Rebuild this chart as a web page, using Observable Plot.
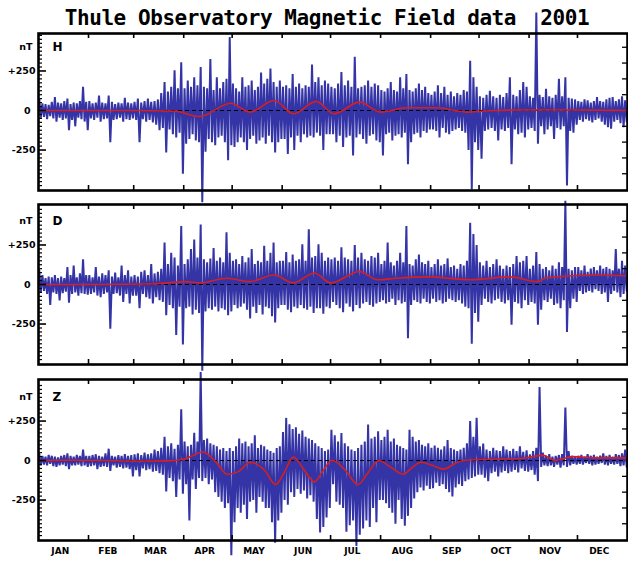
<!DOCTYPE html>
<html><head><meta charset="utf-8">
<script src="https://cdn.jsdelivr.net/npm/d3@7"></script>
<script src="https://cdn.jsdelivr.net/npm/@observablehq/plot@0.6"></script>
<style>
body{margin:0;background:#fff;}
#wrap{position:relative;width:628px;height:561px;overflow:hidden;background:#fff;}
#title{position:absolute;left:0;top:6px;width:654px;text-align:center;font:bold 21px "DejaVu Sans Mono";letter-spacing:-0.45px;line-height:24px;color:#000;white-space:pre;}
.panel{position:absolute;left:0;}
.panel svg{overflow:visible;}
</style></head><body>
<div id="wrap">
<div id="title">Thule Observatory Magnetic Field data  2001</div>
<div class="panel" id="pH" style="top:0px"></div>
<div class="panel" id="pD" style="top:197px"></div>
<div class="panel" id="pZ" style="top:367px"></div>
</div>
<script>
// ---- categories / ticks ----
const months = ["JAN","FEB","MAR","APR","MAY","JUN","JUL","AUG","SEP","OCT","NOV","DEC"];
const monthStarts = [0,31,59,90,120,151,181,212,243,273,304,334,365]; // day of year
const yTickValues = [250, 0, -250];
const yTickLabels = ["+250", "0", "-250"];
const panelNames = ["H", "D", "Z"];

// ---- H component: upper / lower excursions (nT), per month, ~2-day bins ----
const hHi = [
 [70,45,40,35,55,85,50,45,60,75,40,50,45,60,150,55],
 [60,45,50,95,50,45,95,55,40,50,45,80,50,45],
 [55,75,50,60,75,55,60,70,110,180,120,150,255,140,305],
 [140,190,150,210,160,275,150,140,325,130,210,140,180,200,465],
 [170,140,120,210,150,160,190,130,150,240,170,200,265,180,150,190],
 [150,160,140,230,150,170,140,160,150,290,180,210,160,190,170],
 [150,140,170,243,160,190,150,340,140,150,160,190,150,170,160],
 [130,120,140,180,130,120,210,140,230,130,120,140,170,130,150,110],
 [100,120,160,110,150,100,120,90,110,100,130,120,315,210,150],
 [90,80,100,125,90,80,100,85,110,210,100,90,130,180,150],
 [90,80,620,100,85,137,90,80,100,200,90,210,80,75,70],
 [60,55,70,65,50,60,85,60,55,70,80,85,60,70,90,65]
];
const hLo = [
 [-45,-40,-55,-35,-50,-70,-45,-60,-50,-125,-60,-100,-45,-55,-70,-125],
 [-50,-60,-45,-70,-55,-50,-200,-60,-55,-45,-70,-55,-60,-50],
 [-60,-200,-55,-70,-60,-75,-90,-125,-110,-265,-120,-150,-170,-140,-400],
 [-210,-180,-150,-190,-200,-580,-260,-180,-200,-220,-170,-160,-200,-315,-220],
 [-230,-200,-170,-200,-250,-180,-160,-210,-190,-170,-210,-160,-200,-265,-200,-180],
 [-180,-275,-170,-250,-160,-200,-150,-170,-160,-170,-140,-160,-250,-150,-150],
 [-150,-200,-160,-230,-170,-160,-285,-170,-150,-180,-210,-160,-150,-190,-200],
 [-285,-150,-140,-190,-160,-150,-170,-140,-340,-200,-150,-140,-170,-130,-140,-120],
 [-120,-130,-170,-110,-140,-150,-130,-120,-110,-130,-140,-250,-500,-200,-250],
 [-305,-130,-120,-110,-130,-190,-120,-130,-110,-340,-120,-150,-140,-170,-120],
 [-110,-130,-210,-100,-150,-120,-100,-180,-110,-120,-100,-475,-130,-140,-90],
 [-60,-70,-55,-65,-75,-60,-50,-70,-90,-105,-115,-70,-60,-80,-105,-70]
];
const hRedDays = [0,30,60,85,100,119,131,146,158,172,183,199,212,228,247,266,282,300,330,364];
const hRedVals = [0,0,0,-5,-38,46,-10,63,-21,58,-21,53,-10,17,17,-10,0,3,3,0];

// ---- D component ----
const dHi = [
 [88,60,40,50,45,60,40,50,40,110,60,120,45,70,160,60],
 [60,45,110,50,70,60,90,50,75,45,120,60,90,50],
 [60,50,80,90,60,130,70,80,100,265,130,200,170,120,370],
 [130,160,225,285,170,380,160,140,165,230,150,170,140,330,200],
 [150,160,130,180,140,170,225,130,150,140,245,150,200,265,140,150],
 [150,205,140,190,150,160,255,150,350,170,180,255,200,150,170],
 [160,170,150,235,170,160,150,250,170,200,160,150,180,170,200],
 [130,150,265,140,120,150,200,140,370,130,120,160,190,140,130,150],
 [110,130,160,120,130,165,110,120,100,130,120,150,390,320,250],
 [140,120,150,110,130,160,120,100,120,110,130,180,140,150,180],
 [100,120,205,130,100,110,90,120,100,140,110,530,100,90,110],
 [110,90,120,80,100,110,90,120,100,110,100,90,225,100,150,120]
];
const dLo = [
 [-50,-40,-60,-130,-50,-60,-100,-55,-45,-115,-60,-50,-70,-55,-60,-65],
 [-60,-50,-70,-80,-60,-50,-280,-60,-55,-70,-110,-60,-120,-70],
 [-70,-150,-60,-80,-90,-120,-80,-100,-110,-195,-130,-150,-320,-140,-380],
 [-150,-140,-190,-160,-180,-545,-170,-150,-160,-140,-170,-150,-160,-195,-170],
 [-130,-150,-140,-120,-160,-215,-140,-180,-130,-190,-140,-150,-200,-240,-150,-130],
 [-130,-160,-175,-140,-150,-130,-150,-160,-140,-180,-150,-150,-185,-140,-150],
 [-110,-130,-150,-175,-120,-140,-170,-130,-150,-120,-110,-130,-140,-120,-110],
 [-100,-120,-110,-90,-130,-100,-120,-110,-340,-130,-100,-110,-120,-90,-110,-120],
 [-90,-110,-100,-120,-110,-90,-100,-110,-100,-120,-140,-150,-375,-180,-235],
 [-130,-90,-110,-120,-100,-90,-110,-120,-100,-255,-110,-120,-150,-100,-130],
 [-110,-120,-255,-160,-100,-110,-90,-130,-120,-150,-100,-300,-150,-90,-110],
 [-40,-60,-50,-40,-50,-30,-40,-60,-50,-110,-60,-40,-50,-80,-60,-40]
];
const dRedDays = [0,38,69,80,92,100,117,131,146,158,171,181,199,210,222,241,268,292,309,315,346,364];
const dRedVals = [0,0,3,10,18,10,40,18,60,10,73,10,82,30,40,48,30,48,18,44,60,55];

// ---- Z component ----
const zHi = [
 [40,30,25,35,30,25,20,30,35,45,30,25,35,30,70,30],
 [30,35,40,30,25,45,75,30,25,35,30,40,30,35],
 [40,45,35,50,40,45,70,60,80,150,90,110,75,100,325],
 [120,90,100,175,120,560,130,140,110,100,90,70,80,60,80],
 [60,90,140,110,120,90,110,160,80,100,90,70,60,50,80,90],
 [180,270,230,200,210,170,190,150,140,130,110,90,80,60,70],
 [195,160,120,175,110,90,70,60,80,100,120,228,140,150,185],
 [130,150,195,120,140,100,90,80,70,195,150,120,130,100,90,110],
 [80,95,80,70,90,130,80,70,60,70,80,110,250,150,270],
 [90,108,70,60,80,65,60,90,70,60,75,60,90,55,65],
 [40,60,80,465,50,30,40,25,30,35,40,335,60,30,25],
 [30,35,25,40,30,35,25,30,45,30,35,25,40,35,45,70]
];
const zLo = [
 [-30,-25,-30,-20,-35,-40,-30,-25,-35,-55,-30,-30,-25,-35,-30,-40],
 [-35,-30,-55,-40,-35,-40,-65,-30,-45,-40,-50,-45,-55,-100],
 [-60,-100,-50,-60,-55,-70,-65,-80,-90,-195,-110,-130,-230,-120,-210],
 [-150,-380,-120,-180,-110,-130,-110,-150,-120,-200,-230,-260,-300,-270,-600],
 [-390,-300,-330,-280,-370,-260,-250,-330,-230,-260,-300,-300,-390,-520,-380,-330],
 [-250,-280,-200,-230,-180,-210,-190,-240,-220,-260,-370,-455,-420,-360,-300],
 [-150,-260,-280,-300,-450,-410,-380,-540,-470,-430,-380,-420,-300,-390,-250],
 [-250,-270,-300,-330,-400,-250,-370,-412,-350,-300,-240,-200,-170,-190,-160,-180],
 [-175,-140,-160,-150,-180,-200,-228,-170,-150,-160,-130,-120,-110,-100,-90],
 [-90,-108,-130,-80,-70,-100,-75,-65,-80,-70,-60,-75,-50,-65,-70],
 [-60,-90,-130,-40,-30,-35,-30,-40,-25,-45,-30,-40,-30,-20,-25],
 [-20,-25,-15,-20,-30,-25,-20,-15,-25,-30,-20,-25,-20,-35,-30,-40]
];
const zRedDays = [0,20,40,60,80,90,102,110,117,124,131,140,147,152,158,164,171,176,182,190,198,204,211,218,226,232,237,244,251,258,263,280,300,313,320,331,345,364];
const zRedVals = [0,2,0,-3,-2,8,54,-10,-87,-70,-11,-60,-152,-80,22,-50,-135,-70,2,-60,-152,-80,0,-40,-87,-40,-11,-30,-54,-20,0,8,15,33,0,25,17,17];

// ---- build ----
function zig(hi, lo) {
  const pts = [];
  hi.forEach((arr, m) => {
    const s = monthStarts[m], L = monthStarts[m + 1] - s, n = arr.length;
    arr.forEach((v, k) => {
      pts.push({day: s + (k + 0.25) * L / n, v});
      pts.push({day: s + (k + 0.75) * L / n, v: lo[m][k]});
    });
  });
  return pts;
}

const W = 628, ML = 38, MR = 1;
const innerW = W - ML - MR;
const lab = {fontFamily: "DejaVu Sans", fontWeight: "bold", fontSize: 9.5, fill: "#000"};

function panel(id, p) {
  const innerH = p.height - p.mt - p.mb;
  const pts = zig(p.hi, p.lo);
  const red = p.redDays.map((d, i) => ({day: d, v: p.redVals[i]}));
  const minor = d3.range(-500, 501, 25).filter(v => v >= p.domain[0] && v <= p.domain[1] && v % 250 !== 0);
  const right = [-400, -300, -200, -100, 100, 200, 300, 400];
  const inner = monthStarts.slice(1, -1);
  const marks = [
    Plot.line(pts, {x: "day", y: "v", stroke: "#3434a6", strokeWidth: 2, strokeLinejoin: "miter"}),
    Plot.ruleY([0], {stroke: "#000", strokeWidth: 1, strokeDasharray: "4,3"}),
    Plot.line(red, {x: "day", y: "v", stroke: "#d81e1e", strokeWidth: 1.6, curve: "monotone-x"}),
    Plot.tickY(minor, {insetRight: innerW - 4, stroke: "#000", strokeWidth: 1.2}),
    Plot.tickY(yTickValues, {insetRight: innerW - 8, stroke: "#000", strokeWidth: 1.6}),
    Plot.tickY(right, {insetLeft: innerW - 5, stroke: "#000", strokeWidth: 1.3}),
    Plot.tickX(inner, {insetBottom: innerH - 5, stroke: "#000", strokeWidth: 1.6}),
    Plot.tickX(inner, {insetTop: innerH - 5, stroke: "#000", strokeWidth: 1.6}),
    Plot.frame({stroke: "#000", strokeWidth: 2.6}),
    Plot.text(yTickValues.filter(v => v !== 0), {y: d => d, text: d => yTickLabels[yTickValues.indexOf(d)], frameAnchor: "left", textAnchor: "end", dx: -3, ...lab}),
    Plot.text(yTickValues.filter(v => v === 0), {y: d => d, text: d => yTickLabels[yTickValues.indexOf(d)], frameAnchor: "left", textAnchor: "end", dx: -8, ...lab}),
    Plot.text(["nT"], {y: () => 405, text: d => d, frameAnchor: "left", textAnchor: "end", dx: -6, ...lab}),
    Plot.text([p.letter], {x: () => 0, y: () => 400, text: d => d, textAnchor: "start", dx: 14, fontFamily: "DejaVu Sans", fontWeight: "bold", fontSize: 12, fill: "#000"})
  ];
  if (p.last) {
    marks.push(Plot.text(months, {
      x: (d, i) => (monthStarts[i] + monthStarts[i + 1]) / 2 - 2,
      text: d => d, frameAnchor: "bottom", dy: 13,
      fontFamily: "DejaVu Sans", fontWeight: "bold", fontSize: 9, fill: "#000"
    }));
  }
  const chart = Plot.plot({
    width: W, height: p.height,
    marginLeft: ML, marginRight: MR, marginTop: p.mt, marginBottom: p.mb,
    x: {domain: [0, 365], axis: null},
    y: {domain: p.domain, axis: null},
    style: {overflow: "visible", background: "transparent"},
    marks
  });
  document.getElementById(id).appendChild(chart);
}

panel("pH", {hi: hHi, lo: hLo, redDays: hRedDays, redVals: hRedVals, letter: panelNames[0], domain: [-506, 487], height: 197, mt: 33, mb: 7});
panel("pD", {hi: dHi, lo: dLo, redDays: dRedDays, redVals: dRedVals, letter: panelNames[1], domain: [-506, 506], height: 170, mt: 7, mb: 3});
panel("pZ", {hi: zHi, lo: zLo, redDays: zRedDays, redVals: zRedVals, letter: panelNames[2], domain: [-506, 513], height: 194, mt: 12, mb: 21, last: true});
</script>
</body></html>
